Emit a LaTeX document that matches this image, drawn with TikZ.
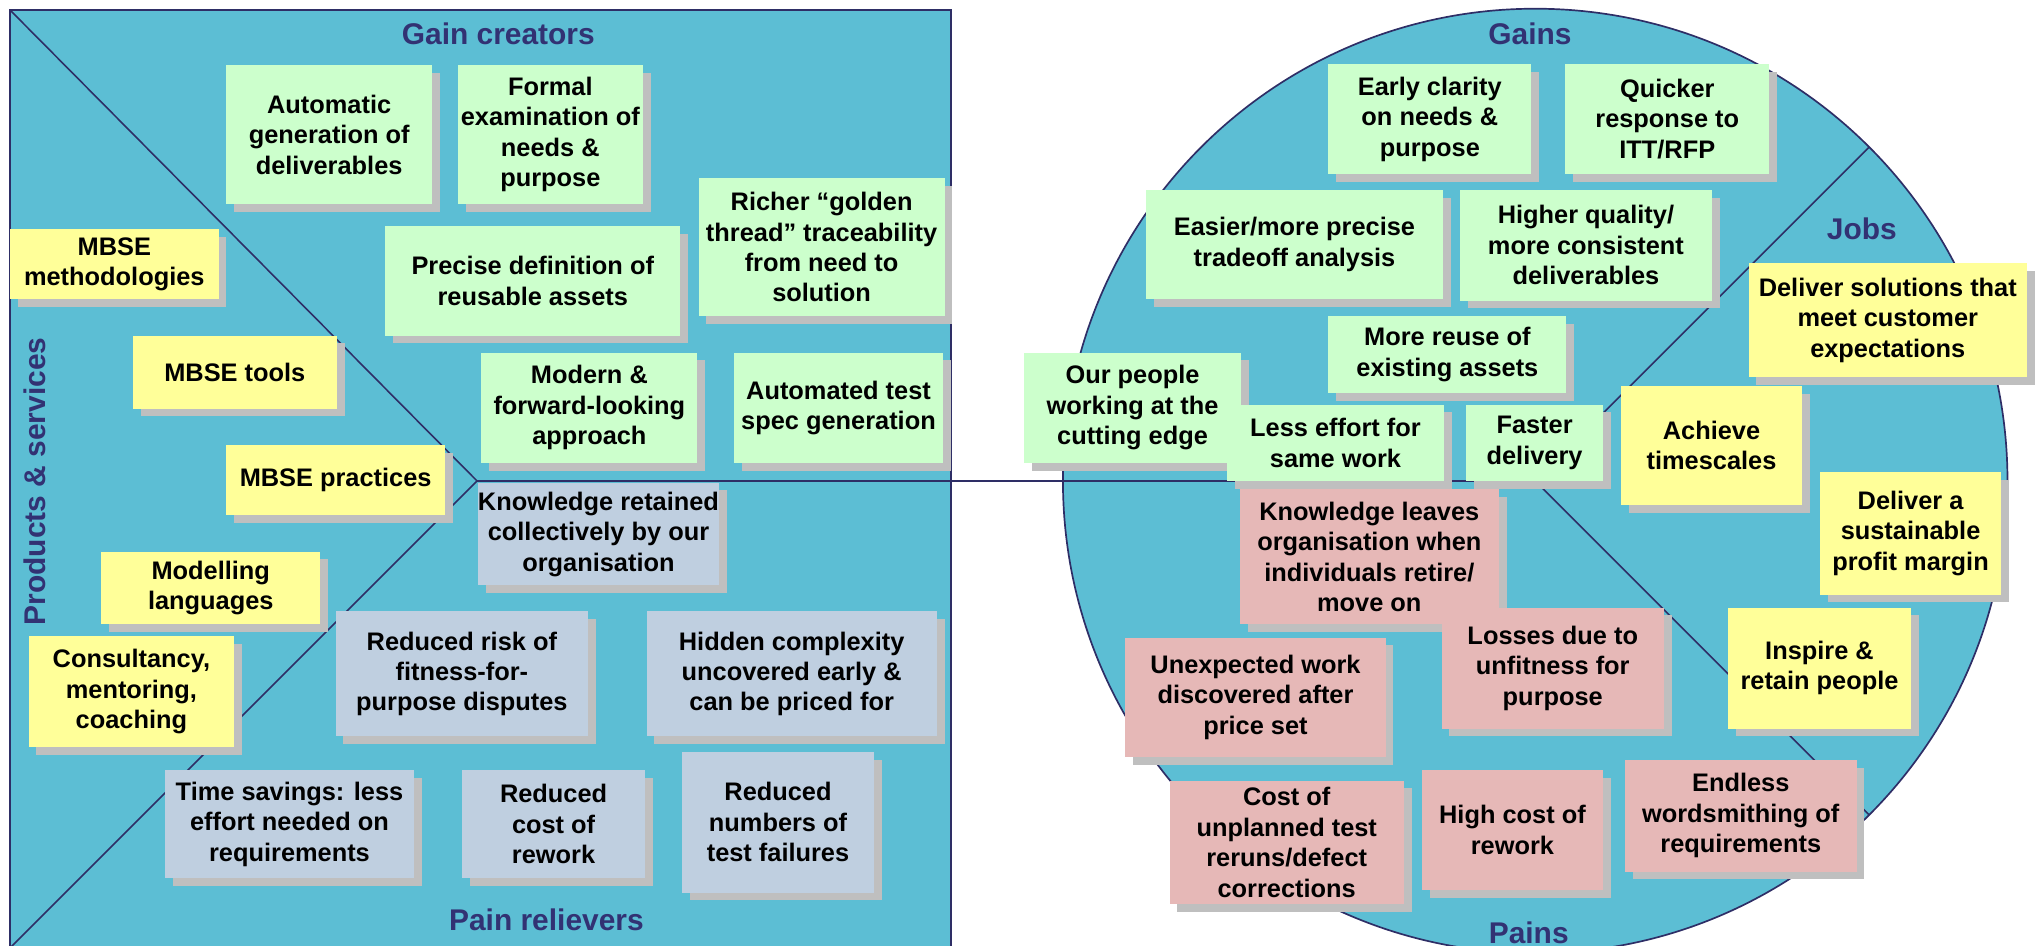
\documentclass[tikz,border=0pt]{standalone}
\usepackage{fontspec}
\setmainfont{Liberation Sans}
\usetikzlibrary{shadows}
\definecolor{teal}{RGB}{92,190,212}
\definecolor{navy}{RGB}{46,46,102}
\definecolor{ttl}{RGB}{50,50,115}
\definecolor{gbox}{RGB}{204,255,204}
\definecolor{ybox}{RGB}{255,255,153}
\definecolor{bbox}{RGB}{191,207,224}
\definecolor{pbox}{RGB}{230,184,183}
\definecolor{shgray}{RGB}{191,191,191}
\newcommand\bx[7]{\node[vpbox, fill=#2, minimum width={#4pt-#3pt}, minimum height={#6pt-#5pt}] (#1) at ({(#3+#4)/2},{(#5+#6)/2}) {#7};}
\begin{document}
\begin{tikzpicture}[x=1pt,y=-1pt,
  vpbox/.style={rectangle, inner sep=0pt, align=center, text=black,
    font=\bfseries\fontsize{19.5}{23.4}\selectfont,
    drop shadow={shadow xshift=6pt, shadow yshift=-6pt, opacity=1, fill=shgray}},
  vptitle/.style={text=ttl, font=\bfseries\fontsize{23}{27}\selectfont, inner sep=0pt},
  divline/.style={draw=navy, line width=1.2pt}]
\useasboundingbox (0,0) rectangle (1568,727);
% left square
\draw[fill=teal, draw=navy, line width=2pt] (7.7,7.7) rectangle (731,730);
\coordinate (sqtl) at (7.7,7.7);
\coordinate (sqbl) at (7.7,728.7);
\coordinate (chev) at (366.7,369.7);
% circle
\draw[fill=teal, draw=navy, line width=1.3pt] (1180,369.7) circle[radius=363];
\coordinate (cc) at (1180,369.7);
\coordinate (jobup) at (1436.7,113);
\coordinate (joblo) at (1436.7,626.4);
\draw[divline] (sqtl) -- (chev) -- (sqbl);
\draw[divline] (chev) -- (cc);
\draw[divline] (jobup) -- (cc) -- (joblo);
% titles
\node[vptitle] (tgc) at (383,26) {Gain creators};
\node[vptitle] (tpr) at (420,707) {Pain relievers};
\node[vptitle, rotate=90] (tps) at (27,370) {Products \& services};
\node[vptitle] (tga) at (1176,26) {Gains};
\node[vptitle] (tjo) at (1431,176) {Jobs};
\node[vptitle] (tpa) at (1175,717) {Pains};
% left: gain creators
\bx{a1}{gbox}{174}{332}{50}{157}{Automatic\\generation of\\deliverables}
\bx{a2}{gbox}{352}{494}{50}{157}{Formal\\examination of\\needs \&\\purpose}
\bx{a3}{gbox}{296}{523}{174}{258}{Precise definition of\\reusable assets}
\bx{a4}{gbox}{537}{726}{137}{243}{Richer “golden\\thread” traceability\\from need to\\solution}
\bx{a5}{gbox}{370}{536}{271}{356}{Modern \&\\forward-looking\\approach}
\bx{a6}{gbox}{564}{725}{271}{356}{Automated test\\spec generation}
% products & services
\bx{y1}{ybox}{7.7}{168}{176}{230}{MBSE\\methodologies}
\bx{y2}{ybox}{102}{259}{258}{314}{MBSE tools}
\bx{y3}{ybox}{174}{342}{342}{396}{MBSE practices}
\bx{y4}{ybox}{78}{246}{424}{480}{Modelling\\languages}
\bx{y5}{ybox}{22}{180}{489}{574}{Consultancy,\\mentoring,\\coaching}
% pain relievers
\bx{b1}{bbox}{368}{552}{371}{450}{Knowledge retained\\collectively by our\\organisation}
\bx{b2}{bbox}{258}{452}{470}{566}{Reduced risk of\\fitness-for-\\purpose disputes}
\bx{b3}{bbox}{497}{720}{470}{566}{Hidden complexity\\uncovered early \&\\can be priced for}
\bx{b4}{bbox}{127}{318}{592}{675}{Time savings: less\\effort needed on\\requirements}
\bx{b5}{bbox}{355}{496}{592}{675}{Reduced\\cost of\\rework}
\bx{b6}{bbox}{524}{672}{578}{686}{Reduced\\numbers of\\test failures}
% gains
\bx{g1}{gbox}{1021}{1177}{49}{134}{Early clarity\\on needs \&\\purpose}
\bx{g2}{gbox}{1203}{1360}{49}{134}{Quicker\\response to\\ITT/RFP}
\bx{g3}{gbox}{881}{1109}{146}{230}{Easier/more precise\\tradeoff analysis}
\bx{g4}{gbox}{1122}{1316}{146}{231}{Higher quality/\\more consistent\\deliverables}
\bx{g5}{gbox}{1021}{1204}{243}{302}{More reuse of\\existing assets}
\bx{g6}{gbox}{787}{954}{271}{356}{Our people\\working at the\\cutting edge}
\bx{g7}{gbox}{943}{1110}{311}{370}{Less effort for\\same work}
\bx{g8}{gbox}{1127}{1232}{311}{370}{Faster\\delivery}
% jobs
\bx{j1}{ybox}{1344}{1558}{202}{290}{Deliver solutions that\\meet customer\\expectations}
\bx{j2}{ybox}{1246}{1385}{297}{388}{Achieve\\timescales}
\bx{j3}{ybox}{1399}{1538}{363}{457}{Deliver a\\sustainable\\profit margin}
\bx{j4}{ybox}{1328}{1469}{467}{560}{Inspire \&\\retain people}
% pains
\bx{p1}{pbox}{953}{1152}{376}{480}{Knowledge leaves\\organisation when\\individuals retire/\\move on}
\bx{p2}{pbox}{1108}{1279}{467}{560}{Losses due to\\unfitness for\\purpose}
\bx{p3}{pbox}{865}{1065}{490}{582}{Unexpected work\\discovered after\\price set}
\bx{p4}{pbox}{899}{1079}{600}{695}{Cost of\\unplanned test\\reruns/defect\\corrections}
\bx{p5}{pbox}{1093}{1232}{592}{684}{High cost of\\rework}
\bx{p6}{pbox}{1249}{1427}{584}{670}{Endless\\wordsmithing of\\requirements}
\end{tikzpicture}
\end{document}
